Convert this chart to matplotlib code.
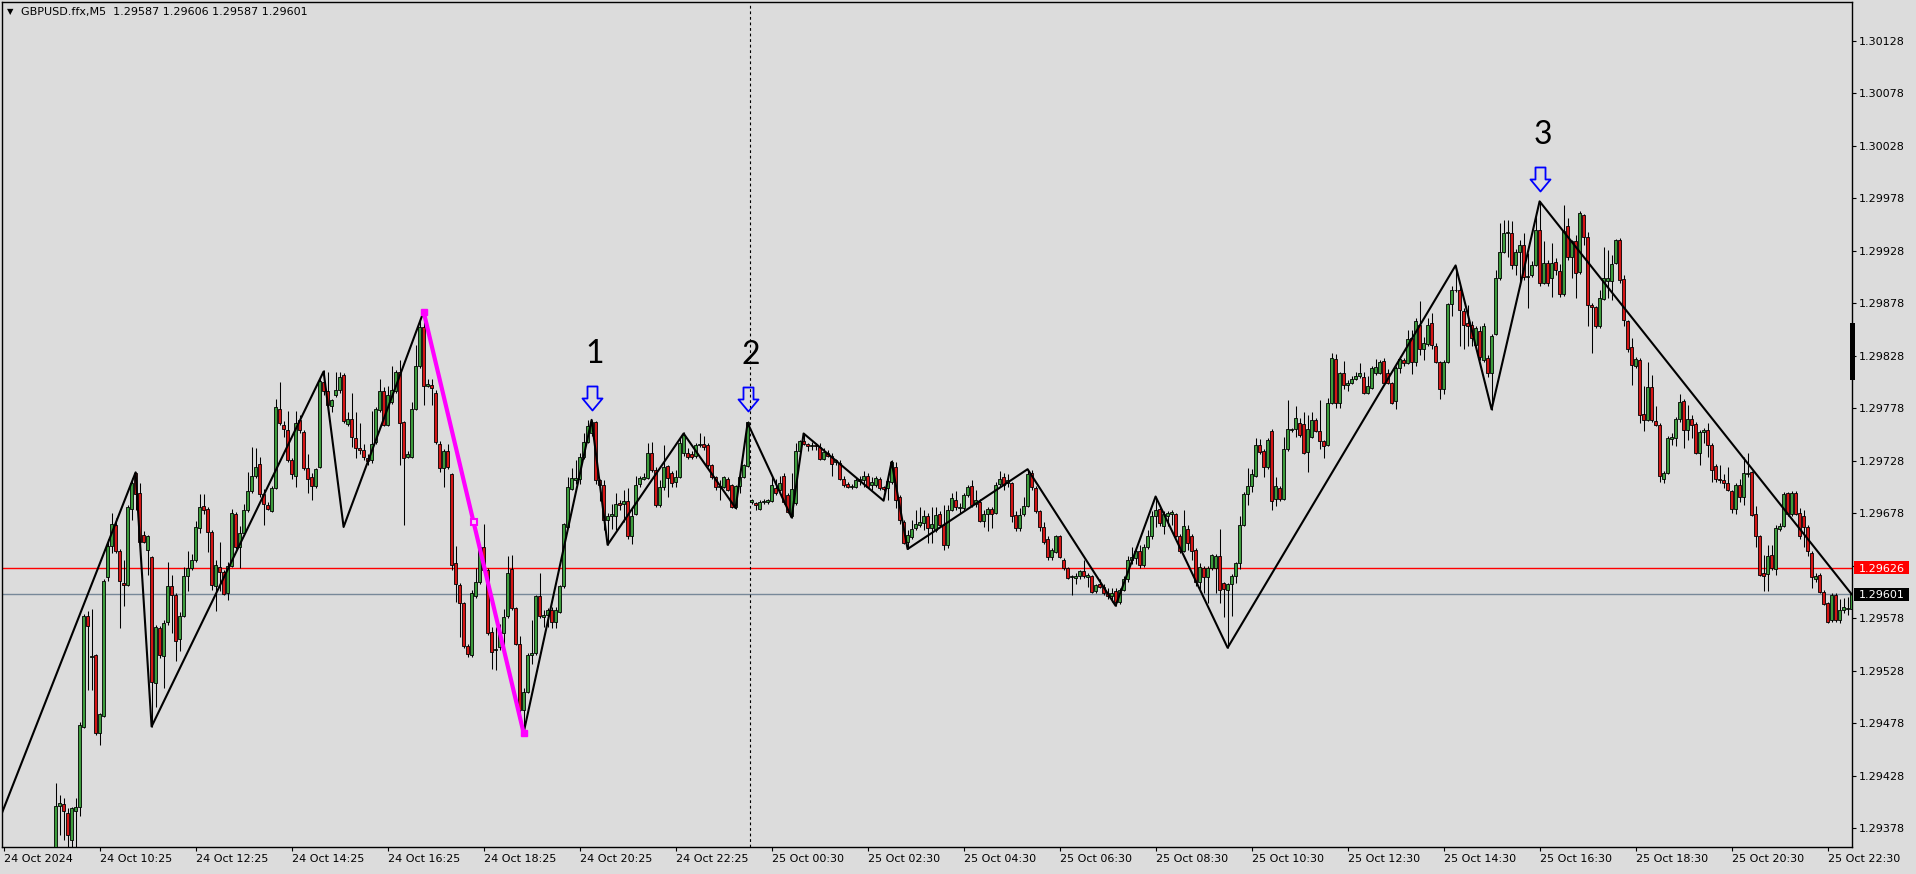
import numpy as np
import matplotlib
matplotlib.use("Agg")
import matplotlib.pyplot as plt
from matplotlib.path import Path
from matplotlib.patches import Rectangle
from matplotlib.transforms import offset_copy, IdentityTransform

W, H = 1916, 874
BG = "#dcdcdc"
BULL = "#3c9c3c"
BEAR = "#d41515"

# GBPUSD M5 candles, prices in points (0.00001) above 1.29000
first_bar = 13
opens = [
    345, 399, 401, 393, 367, 395, 398, 475, 580, 541,
    543, 469, 485, 617, 647, 667, 642, 612, 610, 682,
    716, 697, 657, 643, 636, 516, 569, 542, 575, 609,
    600, 558, 580, 618, 626, 634, 664, 685, 682, 660,
    609, 627, 622, 602, 628, 677, 646, 659, 681, 699,
    714, 725, 696, 686, 680, 702, 777, 762, 757, 729,
    714, 767, 755, 721, 713, 704, 722, 803, 794, 780,
    791, 795, 810, 763, 768, 750, 740, 738, 731, 729,
    746, 776, 794, 762, 784, 794, 813, 765, 732, 732,
    777, 818, 855, 799, 800, 793, 744, 721, 737, 715,
    631, 610, 593, 552, 543, 599, 613, 646, 624, 565,
    548, 551, 564, 580, 625, 588, 554, 491, 508, 543,
    545, 599, 579, 581, 586, 575, 584, 609, 665, 701,
    710, 711, 732, 746, 754, 765, 710, 705, 672, 675,
    675, 688, 687, 690, 656, 677, 706, 711, 712, 735,
    719, 686, 703, 723, 716, 708, 713, 735, 735, 734,
    733, 743, 744, 743, 724, 713, 703, 703, 711, 705,
    684, 704, 713, 723, 689, 688, 682, 689, 689, 690,
    702, 700, 714, 695, 675, 688, 737, 747, 744, 742,
    743, 741, 730, 735, 733, 727, 726, 711, 706, 703,
    703, 709, 710, 714, 705, 705, 711, 703, 702, 708,
    722, 694, 670, 651, 655, 664, 667, 669, 675, 664,
    662, 677, 667, 648, 681, 691, 683, 683, 695, 704,
    687, 689, 671, 677, 682, 678, 706, 713, 707, 707,
    676, 664, 677, 685, 716, 702, 680, 665, 654, 636,
    641, 656, 634, 626, 617, 616, 618, 623, 617, 618,
    604, 611, 608, 602, 599, 604, 594, 605, 615, 634,
    635, 642, 629, 646, 656, 675, 682, 666, 675, 677,
    677, 656, 642, 663, 656, 643, 613, 626, 617, 626,
    626, 637, 612, 605, 611, 618, 631, 667, 696, 704,
    714, 743, 737, 722, 756, 692, 702, 692, 739, 757,
    758, 764, 763, 736, 751, 767, 756, 747, 743, 783,
    825, 783, 812, 800, 802, 806, 809, 808, 793, 797,
    812, 812, 823, 812, 802, 785, 816, 824, 821, 845,
    822, 857, 834, 839, 859, 837, 822, 796, 822, 877,
    891, 891, 871, 859, 857, 838, 852, 824, 826, 812,
    849, 902, 927, 945, 945, 914, 927, 933, 903, 905,
    914, 948, 897, 916, 902, 917, 909, 887, 952, 922,
    937, 908, 962, 941, 876, 874, 856, 882, 899, 899,
    916, 938, 901, 861, 836, 818, 824, 773, 767, 798,
    766, 762, 711, 716, 749, 750, 768, 785, 757, 768,
    763, 735, 755, 757, 743, 723, 711, 710, 707, 699,
    682, 705, 694, 715, 717, 677, 656, 621, 620, 638,
    625, 663, 666, 697, 677, 697, 678, 675, 665, 640,
    615, 619, 603, 593, 576, 600, 576, 586, 587, 587,
]
highs = [
    421, 410, 407, 397, 398, 407, 479, 582, 585, 587,
    544, 488, 615, 654, 678, 674, 644, 634, 686, 712,
    717, 707, 661, 657, 637, 572, 571, 576, 632, 619,
    602, 584, 627, 642, 639, 671, 696, 696, 684, 662,
    634, 651, 624, 632, 682, 679, 666, 687, 717, 741,
    740, 732, 701, 689, 704, 787, 803, 766, 775, 731,
    775, 772, 757, 734, 716, 721, 808, 814, 813, 787,
    813, 813, 812, 774, 793, 774, 764, 744, 734, 775,
    779, 806, 798, 799, 818, 814, 824, 766, 737, 784,
    838, 864, 870, 806, 806, 795, 747, 739, 744, 716,
    647, 612, 594, 554, 605, 626, 649, 668, 626, 570,
    570, 573, 587, 637, 638, 589, 561, 512, 545, 576,
    600, 621, 586, 588, 589, 589, 610, 669, 713, 721,
    729, 735, 754, 767, 767, 766, 711, 710, 678, 687,
    697, 691, 700, 702, 684, 714, 714, 716, 745, 746,
    722, 710, 743, 724, 718, 719, 751, 755, 740, 737,
    745, 754, 752, 745, 725, 714, 710, 714, 713, 706,
    705, 718, 725, 766, 692, 689, 691, 692, 692, 714,
    711, 714, 716, 697, 716, 745, 748, 754, 745, 746,
    745, 745, 740, 738, 735, 730, 729, 714, 708, 706,
    713, 714, 718, 716, 713, 714, 713, 704, 711, 729,
    727, 695, 672, 662, 672, 681, 684, 681, 678, 684,
    684, 680, 686, 686, 697, 699, 688, 697, 705, 710,
    700, 692, 681, 684, 684, 708, 718, 716, 715, 708,
    680, 683, 694, 719, 719, 704, 681, 670, 656, 645,
    657, 657, 635, 627, 619, 621, 624, 634, 621, 619,
    611, 615, 611, 607, 607, 607, 607, 618, 637, 646,
    646, 648, 649, 662, 680, 692, 686, 680, 680, 681,
    678, 658, 681, 667, 658, 645, 631, 628, 628, 639,
    639, 663, 613, 612, 620, 632, 675, 698, 721, 720,
    750, 749, 739, 750, 758, 713, 704, 751, 786, 759,
    780, 769, 774, 772, 774, 769, 786, 748, 788, 831,
    830, 813, 823, 805, 809, 813, 821, 813, 809, 818,
    825, 824, 826, 815, 803, 818, 828, 826, 853, 853,
    864, 880, 846, 864, 869, 840, 823, 824, 878, 894,
    913, 894, 873, 876, 861, 856, 856, 859, 829, 849,
    910, 954, 957, 957, 956, 930, 938, 945, 926, 918,
    961, 975, 937, 919, 935, 921, 915, 972, 959, 938,
    943, 966, 963, 946, 878, 875, 891, 932, 929, 924,
    939, 940, 905, 862, 845, 827, 826, 799, 822, 810,
    780, 764, 718, 752, 754, 770, 792, 787, 781, 772,
    765, 757, 759, 764, 745, 725, 724, 715, 722, 700,
    707, 711, 732, 735, 718, 685, 657, 638, 648, 648,
    667, 669, 698, 698, 699, 699, 683, 681, 667, 642,
    621, 621, 605, 594, 602, 602, 596, 597, 598, 606,
]
lows = [
    340, 372, 367, 357, 357, 358, 390, 474, 510, 510,
    467, 457, 484, 614, 640, 640, 569, 590, 609, 672,
    681, 642, 650, 619, 475, 494, 540, 512, 572, 564,
    537, 547, 579, 604, 624, 632, 659, 677, 641, 605,
    585, 604, 600, 595, 627, 644, 626, 658, 679, 697,
    712, 694, 667, 681, 679, 701, 762, 751, 727, 711,
    703, 754, 719, 697, 691, 702, 721, 791, 777, 774,
    789, 793, 764, 761, 741, 731, 734, 729, 724, 726,
    744, 774, 761, 761, 782, 793, 724, 667, 731, 731,
    776, 816, 781, 798, 781, 744, 717, 703, 720, 624,
    594, 560, 550, 541, 541, 597, 611, 622, 562, 530,
    529, 548, 546, 578, 586, 553, 487, 469, 507, 535,
    543, 578, 570, 570, 569, 569, 583, 607, 664, 700,
    706, 706, 730, 745, 752, 706, 690, 662, 648, 663,
    662, 681, 670, 654, 649, 676, 703, 710, 711, 717,
    684, 684, 700, 694, 703, 703, 712, 733, 730, 730,
    731, 741, 738, 722, 711, 700, 691, 702, 699, 683,
    682, 697, 712, 722, 687, 681, 681, 687, 687, 689,
    695, 699, 687, 678, 674, 686, 735, 743, 737, 738,
    738, 729, 729, 732, 714, 724, 710, 703, 702, 701,
    702, 705, 703, 702, 700, 703, 700, 699, 691, 706,
    683, 668, 649, 644, 654, 662, 665, 662, 650, 650,
    660, 665, 643, 645, 680, 681, 678, 681, 694, 684,
    684, 670, 665, 661, 664, 677, 703, 700, 703, 670,
    661, 661, 675, 684, 700, 678, 661, 649, 634, 634,
    640, 635, 624, 615, 600, 611, 615, 616, 608, 602,
    602, 607, 600, 596, 594, 590, 592, 604, 613, 630,
    630, 626, 627, 644, 654, 665, 666, 658, 666, 667,
    655, 640, 641, 643, 634, 609, 606, 602, 593, 624,
    602, 593, 579, 550, 580, 612, 625, 666, 686, 698,
    713, 734, 713, 720, 681, 685, 690, 691, 737, 755,
    751, 751, 734, 717, 750, 755, 739, 731, 742, 782,
    778, 778, 796, 794, 801, 805, 807, 792, 792, 796,
    810, 811, 801, 801, 782, 777, 812, 818, 820, 811,
    818, 829, 824, 837, 834, 821, 787, 792, 821, 866,
    889, 837, 834, 837, 837, 837, 824, 822, 808, 776,
    848, 900, 926, 922, 911, 905, 894, 900, 873, 903,
    913, 894, 896, 894, 884, 905, 884, 885, 919, 902,
    883, 906, 933, 856, 831, 854, 854, 881, 883, 881,
    915, 897, 856, 832, 800, 816, 764, 756, 766, 765,
    761, 708, 707, 715, 743, 742, 765, 740, 748, 750,
    734, 724, 745, 732, 708, 708, 707, 702, 699, 678,
    677, 689, 686, 713, 675, 646, 618, 604, 604, 624,
    619, 661, 665, 675, 675, 676, 654, 646, 637, 607,
    613, 602, 591, 574, 575, 575, 574, 583, 581, 587,
]
closes = [
    399, 402, 395, 372, 397, 398, 476, 580, 571, 542,
    469, 487, 614, 647, 668, 642, 614, 610, 684, 707,
    696, 651, 651, 656, 517, 570, 543, 574, 609, 600,
    556, 580, 618, 626, 634, 665, 684, 681, 660, 610,
    629, 622, 601, 628, 678, 646, 659, 681, 699, 714,
    722, 696, 687, 682, 702, 779, 764, 758, 729, 715,
    764, 757, 721, 711, 704, 720, 804, 794, 781, 786,
    795, 808, 766, 768, 751, 740, 738, 732, 728, 744,
    777, 794, 762, 791, 795, 813, 764, 731, 734, 777,
    818, 855, 799, 801, 797, 746, 721, 737, 722, 629,
    611, 593, 552, 544, 602, 613, 646, 624, 564, 546,
    549, 565, 579, 621, 588, 554, 491, 508, 543, 545,
    599, 580, 581, 586, 575, 586, 609, 668, 703, 712,
    712, 732, 746, 761, 765, 710, 705, 672, 675, 677,
    687, 686, 690, 656, 675, 705, 712, 713, 735, 719,
    686, 703, 722, 712, 707, 713, 745, 753, 732, 732,
    743, 744, 741, 724, 713, 703, 704, 713, 700, 684,
    704, 713, 724, 765, 691, 686, 689, 690, 691, 705,
    697, 707, 689, 679, 701, 737, 747, 744, 742, 743,
    742, 730, 736, 733, 725, 729, 711, 705, 703, 704,
    710, 711, 714, 703, 708, 712, 702, 701, 709, 727,
    691, 672, 650, 657, 663, 668, 670, 675, 664, 668,
    676, 667, 648, 681, 693, 684, 684, 695, 703, 686,
    691, 671, 677, 682, 677, 705, 711, 705, 710, 675,
    664, 676, 685, 715, 703, 680, 665, 651, 636, 643,
    656, 636, 626, 616, 618, 618, 623, 618, 619, 603,
    610, 608, 602, 599, 602, 594, 605, 615, 634, 636,
    642, 629, 646, 656, 675, 681, 669, 677, 678, 679,
    656, 642, 666, 650, 642, 613, 627, 617, 626, 638,
    637, 605, 606, 611, 618, 631, 667, 696, 704, 715,
    743, 736, 722, 748, 690, 704, 692, 739, 758, 758,
    769, 753, 735, 758, 767, 756, 747, 742, 783, 826,
    783, 812, 800, 802, 806, 809, 812, 793, 799, 816,
    817, 822, 802, 802, 783, 816, 825, 821, 844, 822,
    861, 834, 840, 857, 838, 822, 796, 822, 877, 891,
    891, 872, 857, 856, 845, 854, 827, 856, 812, 847,
    902, 927, 945, 946, 914, 927, 933, 903, 904, 914,
    948, 897, 916, 897, 916, 910, 887, 947, 922, 937,
    907, 964, 941, 876, 874, 856, 883, 902, 902, 915,
    938, 900, 862, 834, 819, 825, 772, 767, 798, 767,
    762, 714, 716, 750, 751, 768, 784, 757, 768, 762,
    735, 755, 757, 743, 719, 711, 710, 707, 700, 682,
    705, 694, 716, 716, 676, 656, 619, 618, 637, 626,
    664, 666, 696, 677, 697, 677, 656, 665, 642, 617,
    618, 603, 592, 575, 600, 576, 586, 589, 588, 601,
]

# zigzag indicator vertices (bar index, points above 1.29000)
zz_bars = [-1, 33, 37, 80, 85, 105, 130, 147, 151, 170, 183, 186, 197, 200,
           220, 222, 226, 256, 278, 288, 306, 363, 372, 384, 462]
zz_points = [387, 717, 475, 813, 665, 870, 469, 767, 648, 754, 683, 764, 674, 754,
             690, 727, 644, 720, 590, 694, 550, 914, 777, 975, 601]
leg_bars = [105, 130]
leg_points = [870, 469]

mark_bars = [147, 186, 384]
mark_labels = ["1", "2", "3"]

level_red = 1.29626
level_bid = 1.29601
cursor_bar = 186.6

tick_bars = [0, 24, 48, 72, 96, 120, 144, 168, 192, 216, 240, 264, 288, 312,
             336, 360, 384, 408, 432, 456]
tick_labels = ["24 Oct 2024", "24 Oct 10:25", "24 Oct 12:25", "24 Oct 14:25",
               "24 Oct 16:25", "24 Oct 18:25", "24 Oct 20:25", "24 Oct 22:25",
               "25 Oct 00:30", "25 Oct 02:30", "25 Oct 04:30", "25 Oct 06:30",
               "25 Oct 08:30", "25 Oct 10:30", "25 Oct 12:30", "25 Oct 14:30",
               "25 Oct 16:30", "25 Oct 18:30", "25 Oct 20:30", "25 Oct 22:30"]
price_ticks = [1.29378, 1.29428, 1.29478, 1.29528, 1.29578, 1.29628, 1.29678,
               1.29728, 1.29778, 1.29828, 1.29878, 1.29928, 1.29978, 1.30028,
               1.30078, 1.30128]


def to_price(points):
    return 1.29 + np.asarray(points, dtype=float) / 1e5


o, h, l, c = to_price(opens), to_price(highs), to_price(lows), to_price(closes)
h = np.maximum(h, np.maximum(o, c))
l = np.minimum(l, np.minimum(o, c))
x = np.arange(len(o)) + first_bar

fig = plt.figure(figsize=(W / 100, H / 100), dpi=100, facecolor=BG)
ax = fig.add_axes([2 / W, (H - 846.7) / H, 1850 / W, 844.7 / H], facecolor=BG)
ax.set_xlim(-0.4, 462.1)
ax.set_ylim(1.293606, 1.301648)

ax.axhline(level_red, color="#ff0000", lw=1.0, zorder=1)
ax.axhline(level_bid, color="#778899", lw=1.0, zorder=1)
ax.axvline(cursor_bar, color="black", lw=0.8, ls=(0, (2.5, 2.5)), zorder=1)

# candles
ax.vlines(x, l, h, color="black", lw=0.75, zorder=2)
up = c >= o
ax.bar(x, np.abs(c - o), bottom=np.minimum(o, c), width=0.75,
       color=np.where(up, BULL, BEAR), edgecolor="black", linewidth=0.6, zorder=3)

# zigzag + highlighted leg
ax.plot(zz_bars, to_price(zz_points), color="black", lw=1.5, zorder=4)
lp = to_price(leg_points)
ax.plot(leg_bars, lp, color="#ff00ff", lw=3.0, zorder=5, solid_capstyle="butt")
ax.plot(leg_bars, lp, ls="none", marker="s", ms=5, color="#ff00ff", zorder=6)
ax.plot([np.mean(leg_bars)], [lp.mean()], ls="none", marker="s", ms=5,
        mfc="#f4d0f4", mec="#ff00ff", mew=1.5, zorder=6)

# hollow down arrows with numbers above the swing highs
arrow = Path([(-5, 12), (5, 12), (5, 0), (10, 0), (0, -12), (-10, 0), (-5, 0), (-5, 12)],
             closed=True)
for b, lab in zip(mark_bars, mark_labels):
    top = h[b - first_bar]
    tr_a = offset_copy(ax.transData, fig=fig, x=0, y=22, units="dots")
    ax.plot([b], [top], marker=arrow, ms=17.3, mfc="none", mec="#0000ff", mew=1.3,
            transform=tr_a, zorder=7, clip_on=False)
    tr_t = offset_copy(ax.transData, fig=fig, x=3, y=66, units="dots")
    ax.text(b, top, lab, transform=tr_t, ha="center", va="center", fontsize=23,
            family=["Lato", "DejaVu Sans"], color="black", zorder=7)

for s in ax.spines.values():
    s.set_color("black")
    s.set_linewidth(1.0)

ax.yaxis.tick_right()
ax.set_yticks(price_ticks, [f"{p:.5f}" for p in price_ticks])
ax.tick_params(axis="y", length=3, width=0.8, pad=2.2, labelsize=8, colors="black")
ax.set_xticks(tick_bars, tick_labels)
ax.tick_params(axis="x", length=3, width=0.8, pad=2.5, labelsize=8, colors="black")
for t in ax.get_xticklabels():
    t.set_horizontalalignment("left")

# price tags on the right scale
for lvl, fc in ((level_red, "#ff0000"), (level_bid, "#000000")):
    yd = ax.transData.transform((0, lvl))[1]
    fig.patches.append(Rectangle((1854, yd - 6.5), 55, 13, transform=IdentityTransform(),
                                 fc=fc, ec="none", zorder=8))
    fig.text(1859 / W, yd / H, f"{lvl:.5f}", color="white", fontsize=8,
             va="center_baseline", ha="left", zorder=9)

fig.patches.append(Rectangle((1850 / W, (H - 380) / H), 5 / W, 57 / H,
                             transform=fig.transFigure, fc="black", ec="none"))

fig.text(10 / W, 1 - 12 / H, "\u25bc", fontsize=6, ha="center", va="center")
fig.text(21 / W, 1 - 12.5 / H, "GBPUSD.ffx,M5  1.29587 1.29606 1.29587 1.29601",
         fontsize=8, ha="left", va="center")

fig.savefig("out.png", dpi=100, facecolor=BG)
